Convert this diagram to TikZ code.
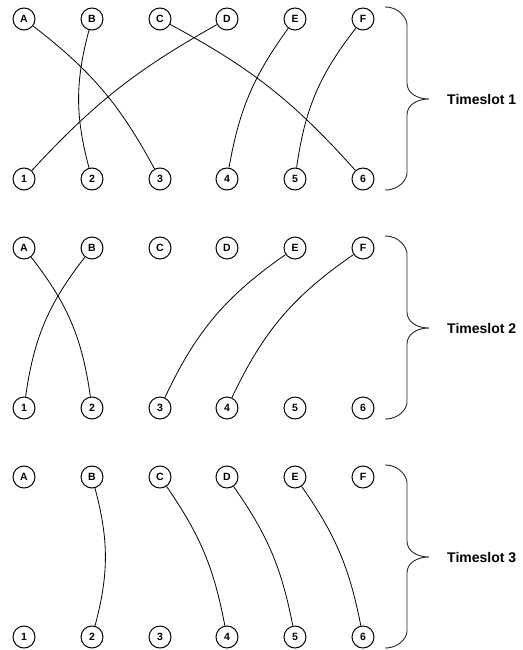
\documentclass[tikz,border=0pt]{standalone}
\usepackage{fontspec}
\setmainfont{Liberation Sans}
\usetikzlibrary{positioning}
\begin{document}
\begin{tikzpicture}
			[x=1pt,y=1pt,
			port/.style={circle,draw,line width=1pt,minimum size=22pt,inner sep=0pt,font=\bfseries\fontsize{10.5}{12}\selectfont},
			link/.style={line width=0.8pt},
			brace/.style={line width=0.9pt,draw=black!85},
			slot/.style={font=\bfseries\fontsize{14}{16}\selectfont,inner sep=0pt}]
			\useasboundingbox (0,0) rectangle (522,-650);
			% timeslot 1
			\node[port,name=1A]at(24,-19){A};
			\node[port,name=1B]at(92,-19){B};
			\node[port,name=1C]at(160,-19){C};
			\node[port,name=1D]at(227,-19){D};
			\node[port,name=1E]at(295,-19){E};
			\node[port,name=1F]at(363,-19){F};
			\node[port,name=1-1]at(24,-179){1};
			\node[port,name=1-2]at(92,-179){2};
			\node[port,name=1-3]at(160,-179){3};
			\node[port,name=1-4]at(227,-179){4};
			\node[port,name=1-5]at(295,-179){5};
			\node[port,name=1-6]at(363,-179){6};
			\draw[link](1A)to[bend left=12](1-3);
			\draw[link](1B)to[bend right=15](1-2);
			\draw[link](1C)to[bend left=10](1-6);
			\draw[link](1D)to[bend right=9](1-1);
			\draw[link](1E)to[bend right=13](1-4);
			\draw[link](1F)to[bend right=15](1-5);
			% timeslot 2
			\node[port,name=2A]at(24,-248){A};
			\node[port,name=2B]at(92,-248){B};
			\node[port,name=2C]at(160,-248){C};
			\node[port,name=2D]at(227,-248){D};
			\node[port,name=2E]at(295,-248){E};
			\node[port,name=2F]at(363,-248){F};
			\node[port,name=2-1]at(24,-408){1};
			\node[port,name=2-2]at(92,-408){2};
			\node[port,name=2-3]at(160,-408){3};
			\node[port,name=2-4]at(227,-408){4};
			\node[port,name=2-5]at(295,-408){5};
			\node[port,name=2-6]at(363,-408){6};
			\draw[link](2A)to[bend left=15](2-2);
			\draw[link](2B)to[bend right=15](2-1);
			\draw[link](2E)to[bend right=15](2-3);
			\draw[link](2F)to[bend right=15](2-4);
			% timeslot 3
			\node[port,name=3A]at(24,-477){A};
			\node[port,name=3B]at(92,-477){B};
			\node[port,name=3C]at(160,-477){C};
			\node[port,name=3D]at(227,-477){D};
			\node[port,name=3E]at(295,-477){E};
			\node[port,name=3F]at(363,-477){F};
			\node[port,name=3-1]at(24,-637){1};
			\node[port,name=3-2]at(92,-637){2};
			\node[port,name=3-3]at(160,-637){3};
			\node[port,name=3-4]at(227,-637){4};
			\node[port,name=3-5]at(295,-637){5};
			\node[port,name=3-6]at(363,-637){6};
			\draw[link](3B)to[bend left=15](3-2);
			\draw[link](3C)to[bend left=12](3-4);
			\draw[link](3D)to[bend left=12](3-5);
			\draw[link](3E)to[bend left=12](3-6);
			% braces
			\coordinate (tip1) at (429,-99);
			\coordinate (tip2) at (429,-328);
			\coordinate (tip3) at (429,-557);
			\draw[brace](385,-7) .. controls +(15,0) and +(0,6) .. (407,-25) -- (407,-83)
				.. controls +(0,-10) and +(-12,0) .. (tip1) .. controls +(-12,0) and +(0,10) .. (407,-115)
				-- (407,-173) .. controls +(0,-6) and +(15,0) .. (385,-190);
			\draw[brace](385,-236) .. controls +(15,0) and +(0,6) .. (407,-254) -- (407,-312)
				.. controls +(0,-10) and +(-12,0) .. (tip2) .. controls +(-12,0) and +(0,10) .. (407,-344)
				-- (407,-402) .. controls +(0,-6) and +(15,0) .. (385,-419);
			\draw[brace](385,-465) .. controls +(15,0) and +(0,6) .. (407,-483) -- (407,-541)
				.. controls +(0,-10) and +(-12,0) .. (tip3) .. controls +(-12,0) and +(0,10) .. (407,-573)
				-- (407,-631) .. controls +(0,-6) and +(15,0) .. (385,-648);
			\node[slot,right=18pt of tip1,name=ts1]{Timeslot 1};
			\node[slot,right=18pt of tip2,name=ts2]{Timeslot 2};
			\node[slot,right=18pt of tip3,name=ts3]{Timeslot 3};
		\end{tikzpicture}
\end{document}
